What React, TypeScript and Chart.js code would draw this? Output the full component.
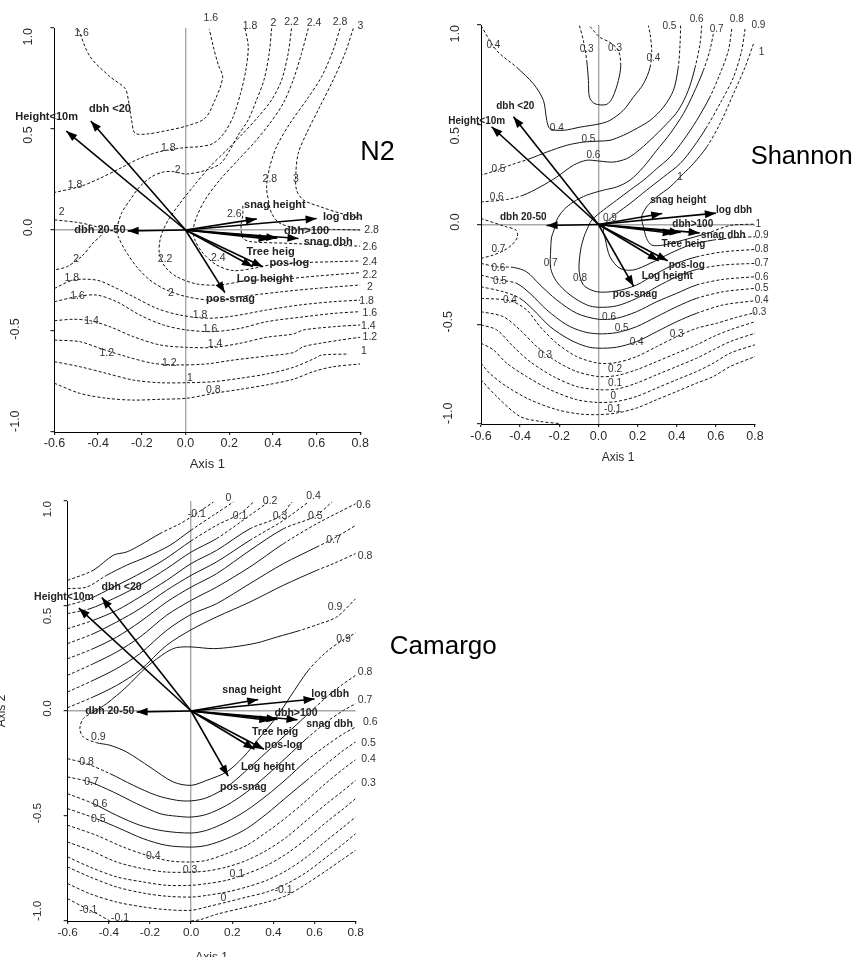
import React, { useEffect, useRef } from 'react';
import { Chart, registerables } from 'chart.js';

Chart.register(...registerables);

const FONT = '"Liberation Sans", Arial, Helvetica, sans-serif';
Chart.defaults.font.family = FONT;

type Pt = [number, number];

// ---------- axes ----------
const xTickValues = [-0.6, -0.4, -0.2, 0, 0.2, 0.4, 0.6, 0.8];
const yTickValues = [1, 0.5, 0, -0.5, -1];

// ---------- biplot vectors (shared by the three panels) ----------
const arrowNames = ['Height<10m', 'dbh <20', 'dbh 20-50', 'snag height', 'log dbh', 'dbh>100', 'snag dbh', 'Tree heig', 'pos-log', 'Log height', 'pos-snag'];
const arrowX = [-0.546, -0.434, -0.265, 0.326, 0.6, 0.42, 0.517, 0.385, 0.354, 0.308, 0.18];
const arrowY = [0.49, 0.54, -0.005, 0.055, 0.057, -0.04, -0.042, -0.045, -0.182, -0.182, -0.31];

// ---------- N2 panel ----------
const n2_16a: Pt[] = [[-0.491,0.993],[-0.437,0.858],[-0.346,0.759],[-0.277,0.701],[-0.262,0.644],[-0.247,0.545],[-0.232,0.48],[-0.178,0.475],[-0.087,0.492],[0.005,0.515],[0.089,0.553],[0.135,0.644],[0.17,0.756],[0.15,0.817],[0.127,0.908],[0.109,0.993]];
const n2_18a: Pt[] = [[0.272,0.998],[0.287,0.908],[0.276,0.792],[0.252,0.677],[0.218,0.561],[0.176,0.479],[0.127,0.429],[0.066,0.413],[-0.003,0.408],[-0.117,0.388],[-0.209,0.355],[-0.3,0.305],[-0.392,0.256],[-0.483,0.215],[-0.6,0.186]];
const n2_20a: Pt[] = [[0.394,0.998],[0.383,0.875],[0.359,0.743],[0.325,0.644],[0.287,0.545],[0.241,0.47],[0.203,0.396],[0.161,0.33],[0.096,0.297],[0.005,0.277],[-0.056,0.289],[-0.102,0.287],[-0.155,0.264],[-0.209,0.215],[-0.254,0.149],[-0.293,0.083],[-0.315,0],[-0.308,-0.033],[-0.277,-0.099],[-0.224,-0.182],[-0.163,-0.248],[-0.087,-0.297],[0.005,-0.33],[0.127,-0.347],[0.31,-0.322],[0.447,-0.305],[0.6,-0.289],[0.8,-0.272]];
const n2_20b: Pt[] = [[-0.6,0.05],[-0.499,0.038],[-0.42,0.02],[-0.38,0.0],[-0.385,-0.025],[-0.42,-0.06],[-0.475,-0.13],[-0.544,-0.182],[-0.6,-0.198]];
const n2_22: Pt[] = [[0.485,0.998],[0.47,0.875],[0.44,0.743],[0.394,0.644],[0.333,0.561],[0.264,0.479],[0.188,0.396],[0.112,0.314],[0.035,0.215],[-0.026,0.132],[-0.079,0.05],[-0.102,0],[-0.117,-0.05],[-0.12,-0.116],[-0.094,-0.182],[-0.041,-0.231],[0.051,-0.267],[0.157,-0.272],[0.279,-0.251],[0.447,-0.243],[0.6,-0.228],[0.8,-0.211]];
const n2_24: Pt[] = [[0.562,0.998],[0.531,0.875],[0.493,0.743],[0.447,0.627],[0.386,0.528],[0.318,0.437],[0.241,0.347],[0.157,0.248],[0.089,0.149],[0.051,0.066],[0.035,0],[0.043,-0.05],[0.081,-0.116],[0.142,-0.173],[0.218,-0.201],[0.31,-0.19],[0.402,-0.17],[0.524,-0.162],[0.676,-0.157],[0.8,-0.153]];
const n2_26: Pt[] = [[0.262,0.12],[0.262,0.074],[0.254,0.02],[0.262,-0.04],[0.3,-0.058],[0.45,-0.065],[0.6,-0.072],[0.8,-0.08]];
const n2_28: Pt[] = [[0.707,0.998],[0.676,0.891],[0.623,0.759],[0.554,0.644],[0.478,0.528],[0.417,0.413],[0.386,0.314],[0.371,0.215],[0.379,0.149],[0.394,0.083],[0.432,0.033],[0.524,0.008],[0.676,0.003],[0.8,0]];
const n2_30: Pt[] = [[0.768,0.998],[0.73,0.875],[0.676,0.743],[0.615,0.611],[0.554,0.479],[0.516,0.38],[0.505,0.281],[0.508,0.198],[0.539,0.149],[0.615,0.116],[0.707,0.083],[0.8,0.058]];
const n2_18b: Pt[] = [[-0.6,-0.289],[-0.514,-0.248],[-0.407,-0.248],[-0.331,-0.281],[-0.239,-0.33],[-0.132,-0.388],[-0.026,-0.421],[0.096,-0.437],[0.218,-0.426],[0.371,-0.396],[0.524,-0.371],[0.676,-0.355],[0.8,-0.347]];
const n2_16b: Pt[] = [[-0.6,-0.355],[-0.499,-0.33],[-0.407,-0.322],[-0.315,-0.355],[-0.209,-0.421],[-0.102,-0.47],[0.005,-0.495],[0.127,-0.503],[0.249,-0.487],[0.371,-0.454],[0.524,-0.432],[0.676,-0.413],[0.8,-0.404]];
const n2_14: Pt[] = [[-0.6,-0.449],[-0.514,-0.442],[-0.437,-0.449],[-0.346,-0.479],[-0.239,-0.528],[-0.117,-0.569],[0.005,-0.581],[0.127,-0.581],[0.249,-0.561],[0.371,-0.531],[0.493,-0.515],[0.539,-0.495],[0.676,-0.479],[0.8,-0.47]];
const n2_12: Pt[] = [[-0.6,-0.545],[-0.483,-0.553],[-0.392,-0.586],[-0.27,-0.627],[-0.148,-0.66],[-0.026,-0.668],[0.096,-0.663],[0.218,-0.644],[0.371,-0.624],[0.493,-0.607],[0.539,-0.578],[0.615,-0.561],[0.707,-0.545],[0.8,-0.531]];
const n2_10: Pt[] = [[-0.6,-0.652],[-0.483,-0.677],[-0.361,-0.71],[-0.239,-0.743],[-0.117,-0.756],[0.005,-0.756],[0.127,-0.751],[0.249,-0.734],[0.371,-0.713],[0.493,-0.68],[0.592,-0.635],[0.623,-0.619],[0.745,-0.614]];
const n2_08: Pt[] = [[-0.6,-0.759],[-0.483,-0.809],[-0.361,-0.833],[-0.239,-0.842],[-0.117,-0.838],[0.005,-0.833],[0.127,-0.809],[0.249,-0.789],[0.371,-0.767],[0.493,-0.739],[0.585,-0.701],[0.676,-0.677],[0.8,-0.663]];
const n2Contours = [n2_16a, n2_18a, n2_20a, n2_20b, n2_22, n2_24, n2_26, n2_28, n2_30, n2_18b, n2_16b, n2_14, n2_12, n2_10, n2_08];
const n2Levels: [string, number, number][] = [['1.6',-0.476,0.974],['1.6',0.116,1.048],['1.8',0.295,1.01],['2',0.402,1.023],['2.2',0.485,1.031],['2.4',0.588,1.026],['2.8',0.707,1.031],['3',0.8,1.01],['1.8',-0.079,0.404],['2',-0.036,0.297],['1.8',-0.506,0.223],['2.8',0.386,0.252],['3',0.505,0.252],['2',-0.567,0.091],['2.6',0.223,0.078],['2.8',0.852,0],['2.6',0.844,-0.083],['2.4',0.844,-0.157],['2.2',0.844,-0.223],['2',0.844,-0.284],['1.8',0.829,-0.35],['1.6',0.844,-0.409],['1.4',0.837,-0.474],['1.2',0.844,-0.531],['1',0.817,-0.602],['2',-0.501,-0.145],['2.2',-0.094,-0.145],['2.4',0.15,-0.14],['2',-0.067,-0.314],['1.8',-0.521,-0.239],['1.6',-0.495,-0.327],['1.4',-0.43,-0.449],['1.2',-0.361,-0.611],['1.8',0.066,-0.421],['1.6',0.112,-0.492],['1.4',0.135,-0.564],['1.2',-0.074,-0.657],['1',0.02,-0.734],['0.8',0.127,-0.795]];
const n2NameX = [-0.636, -0.346, -0.392, 0.409, 0.72, 0.554, 0.653, 0.389, 0.475, 0.363, 0.206];
const n2NameY = [0.561, 0.599, 0.0, 0.124, 0.066, -0.005, -0.058, -0.107, -0.165, -0.244, -0.343];

// ---------- Shannon panel ----------
const sh_04: Pt[] = [[-0.6,0.997],[-0.52,0.872],[-0.418,0.788],[-0.332,0.705],[-0.281,0.622],[-0.264,0.522],[-0.247,0.48],[-0.179,0.472],[-0.094,0.488],[0.008,0.505],[0.059,0.522],[0.127,0.572],[0.178,0.638],[0.23,0.705],[0.264,0.788],[0.272,0.872],[0.264,0.955],[0.255,0.997]];
const sh_03: Pt[] = [[-0.097,0.997],[-0.077,0.922],[-0.06,0.822],[-0.051,0.722],[-0.046,0.638],[-0.017,0.605],[0.042,0.602],[0.073,0.638],[0.102,0.722],[0.114,0.797],[0.102,0.872],[0.059,0.913],[0.008,0.938],[-0.043,0.992]];
const sh_05: Pt[] = [[0.42,0.997],[0.417,0.905],[0.408,0.788],[0.383,0.672],[0.332,0.588],[0.264,0.522],[0.178,0.472],[0.127,0.447],[0.059,0.422],[0.003,0.418],[-0.077,0.413],[-0.162,0.397],[-0.264,0.363],[-0.35,0.33],[-0.452,0.297],[-0.52,0.272],[-0.6,0.247]];
const sh_06: Pt[] = [[0.528,0.997],[0.519,0.905],[0.494,0.788],[0.459,0.672],[0.408,0.572],[0.349,0.505],[0.264,0.422],[0.195,0.363],[0.144,0.33],[0.076,0.313],[0.003,0.318],[-0.06,0.322],[-0.128,0.297],[-0.213,0.238],[-0.298,0.188],[-0.384,0.147],[-0.469,0.125],[-0.6,0.113]];
const sh_07: Pt[] = [[0.587,0.955],[0.569,0.872],[0.536,0.772],[0.485,0.655],[0.434,0.555],[0.366,0.455],[0.298,0.372],[0.23,0.288],[0.161,0.222],[0.093,0.188],[0.025,0.172],[-0.06,0.147],[-0.128,0.113],[-0.179,0.072],[-0.213,0.022],[-0.227,-0.028],[-0.239,-0.062],[-0.244,-0.128],[-0.244,-0.22],[-0.213,-0.287],[-0.145,-0.353],[-0.06,-0.403],[0,-0.415],[0.093,-0.408],[0.195,-0.37],[0.298,-0.312],[0.4,-0.262],[0.502,-0.225],[0.638,-0.203],[0.8,-0.195]];
const sh_08: Pt[] = [[0.681,0.98],[0.664,0.872],[0.621,0.755],[0.569,0.638],[0.502,0.522],[0.434,0.422],[0.366,0.338],[0.298,0.28],[0.23,0.222],[0.161,0.172],[0.093,0.122],[0.025,0.072],[-0.034,0.022],[-0.06,-0.028],[-0.074,-0.062],[-0.091,-0.128],[-0.099,-0.228],[-0.077,-0.303],[-0.009,-0.337],[0.093,-0.333],[0.195,-0.303],[0.298,-0.245],[0.4,-0.195],[0.502,-0.162],[0.638,-0.137],[0.8,-0.125]];
const sh_09: Pt[] = [[0.749,0.98],[0.732,0.872],[0.69,0.738],[0.63,0.622],[0.553,0.488],[0.485,0.388],[0.417,0.305],[0.332,0.238],[0.246,0.172],[0.161,0.105],[0.093,0.055],[0.042,0.013],[0.025,-0.028],[0.034,-0.07],[0.059,-0.162],[0.11,-0.22],[0.178,-0.228],[0.264,-0.195],[0.366,-0.145],[0.468,-0.103],[0.587,-0.078],[0.707,-0.065],[0.8,-0.062]];
const sh_10: Pt[] = [[0.792,0.905],[0.749,0.788],[0.69,0.655],[0.621,0.505],[0.553,0.388],[0.485,0.305],[0.434,0.255],[0.366,0.188],[0.298,0.138],[0.246,0.088],[0.221,0.038],[0.23,-0.012],[0.246,-0.07],[0.272,-0.103],[0.332,-0.103],[0.434,-0.078],[0.553,-0.045],[0.673,-0.005],[0.8,0.002]];
const sh_07b: Pt[] = [[-0.6,0.03],[-0.469,-0.012],[-0.421,-0.028],[-0.414,-0.062],[-0.443,-0.103],[-0.486,-0.132],[-0.537,-0.153],[-0.6,-0.17]];
const sh_u06: Pt[] = [[-0.6,-0.195],[-0.52,-0.212],[-0.435,-0.215],[-0.367,-0.237],[-0.298,-0.303],[-0.213,-0.378],[-0.111,-0.445],[0,-0.475],[0.093,-0.47],[0.195,-0.437],[0.298,-0.387],[0.4,-0.345],[0.502,-0.303],[0.638,-0.275],[0.8,-0.262]];
const sh_u05: Pt[] = [[-0.6,-0.253],[-0.503,-0.278],[-0.418,-0.295],[-0.35,-0.345],[-0.264,-0.428],[-0.162,-0.503],[-0.077,-0.537],[0,-0.548],[0.093,-0.542],[0.195,-0.512],[0.298,-0.462],[0.4,-0.412],[0.502,-0.37],[0.638,-0.337],[0.8,-0.32]];
const sh_u04: Pt[] = [[-0.6,-0.312],[-0.486,-0.337],[-0.401,-0.37],[-0.332,-0.428],[-0.247,-0.512],[-0.145,-0.578],[-0.06,-0.612],[0,-0.62],[0.093,-0.615],[0.195,-0.587],[0.298,-0.537],[0.4,-0.487],[0.502,-0.445],[0.638,-0.403],[0.8,-0.382]];
const sh_u03: Pt[] = [[-0.6,-0.37],[-0.452,-0.382],[-0.367,-0.428],[-0.298,-0.512],[-0.213,-0.595],[-0.111,-0.662],[0,-0.695],[0.093,-0.692],[0.195,-0.662],[0.298,-0.612],[0.4,-0.562],[0.502,-0.52],[0.604,-0.495],[0.707,-0.465],[0.8,-0.442]];
const sh_u02: Pt[] = [[-0.6,-0.437],[-0.486,-0.462],[-0.401,-0.528],[-0.315,-0.612],[-0.213,-0.687],[-0.111,-0.737],[0,-0.762],[0.093,-0.757],[0.195,-0.728],[0.298,-0.687],[0.4,-0.645],[0.502,-0.603],[0.587,-0.562],[0.673,-0.528],[0.8,-0.487]];
const sh_u01: Pt[] = [[-0.6,-0.503],[-0.52,-0.528],[-0.435,-0.612],[-0.35,-0.687],[-0.23,-0.762],[-0.111,-0.812],[0,-0.828],[0.093,-0.825],[0.195,-0.795],[0.298,-0.753],[0.4,-0.712],[0.502,-0.67],[0.587,-0.628],[0.673,-0.587],[0.8,-0.545]];
const sh_u00: Pt[] = [[-0.6,-0.595],[-0.537,-0.628],[-0.469,-0.695],[-0.367,-0.762],[-0.247,-0.828],[-0.111,-0.878],[0,-0.892],[0.093,-0.887],[0.195,-0.862],[0.298,-0.82],[0.4,-0.778],[0.502,-0.737],[0.587,-0.695],[0.673,-0.645],[0.8,-0.603]];
const sh_um01: Pt[] = [[-0.6,-0.695],[-0.557,-0.745],[-0.469,-0.812],[-0.35,-0.878],[-0.213,-0.928],[-0.094,-0.95],[0,-0.953],[0.093,-0.945],[0.195,-0.92],[0.298,-0.878],[0.4,-0.837],[0.502,-0.795],[0.587,-0.762],[0.673,-0.712],[0.8,-0.662]];
const sh_um02: Pt[] = [[-0.6,-0.778],[-0.52,-0.862],[-0.401,-0.962],[-0.298,-0.987],[-0.196,-0.998]];
const shContours = [sh_04, sh_03, sh_05, sh_06, sh_07, sh_08, sh_09, sh_10, sh_07b, sh_u06, sh_u05, sh_u04, sh_u03, sh_u02, sh_u01, sh_u00, sh_um01, sh_um02];
const shLevels: [string, number, number][] = [['0.4',-0.537,0.897],['0.3',-0.06,0.88],['0.3',0.085,0.883],['0.4',0.281,0.835],['0.5',0.363,0.992],['0.6',0.502,1.027],['0.7',0.604,0.98],['0.8',0.707,1.027],['0.9',0.817,0.997],['1',0.834,0.863],['0.4',-0.213,0.48],['0.5',-0.051,0.425],['0.6',-0.026,0.347],['0.5',-0.511,0.275],['0.6',-0.52,0.138],['1',0.417,0.238],['0.9',0.059,0.03],['1',0.817,0.002],['0.9',0.834,-0.053],['0.8',0.834,-0.125],['0.7',0.834,-0.195],['0.6',0.834,-0.262],['0.5',0.834,-0.32],['0.4',0.834,-0.382],['0.3',0.822,-0.442],['0.7',-0.511,-0.125],['0.6',-0.511,-0.217],['0.5',-0.503,-0.282],['0.4',-0.452,-0.382],['0.7',-0.244,-0.195],['0.8',-0.094,-0.267],['0.6',0.054,-0.465],['0.5',0.119,-0.52],['0.4',0.195,-0.592],['0.3',0.4,-0.55],['0.3',-0.273,-0.653],['0.2',0.085,-0.728],['0.1',0.085,-0.795],['0',0.076,-0.862],['-0.1',0.073,-0.925]];
const shNameX = [-0.622, -0.425, -0.384, 0.408, 0.693, 0.482, 0.638, 0.434, 0.451, 0.352, 0.187];
const shNameY = [0.518, 0.592, 0.038, 0.122, 0.072, 0.0, -0.054, -0.099, -0.204, -0.257, -0.35];

// ---------- Camargo panel ----------
const cm_um01: Pt[] = [[-0.6,0.622],[-0.476,0.67],[-0.378,0.742],[-0.314,0.757],[-0.249,0.789],[-0.151,0.845],[-0.054,0.892],[0,0.924],[0.108,0.995]];
const cm_u00: Pt[] = [[-0.6,0.583],[-0.508,0.59],[-0.411,0.646],[-0.314,0.694],[-0.216,0.734],[-0.103,0.789],[0,0.861],[0.108,0.932],[0.205,0.995]];
const cm_u01: Pt[] = [[-0.6,0.503],[-0.492,0.535],[-0.378,0.59],[-0.265,0.646],[-0.135,0.718],[0,0.81],[0.124,0.884],[0.238,0.94],[0.303,0.995]];
const cm_u02: Pt[] = [[-0.6,0.464],[-0.492,0.487],[-0.378,0.535],[-0.249,0.599],[-0.119,0.678],[0,0.757],[0.124,0.821],[0.286,0.932],[0.376,0.995]];
const cm_u03: Pt[] = [[-0.6,0.392],[-0.476,0.432],[-0.362,0.479],[-0.249,0.543],[-0.119,0.622],[0,0.702],[0.124,0.765],[0.286,0.868],[0.432,0.927],[0.489,0.995]];
const cm_u04: Pt[] = [[-0.6,0.321],[-0.476,0.368],[-0.362,0.424],[-0.249,0.487],[-0.119,0.575],[0,0.646],[0.124,0.71],[0.286,0.813],[0.449,0.908],[0.57,0.995]];
const cm_u05: Pt[] = [[-0.6,0.249],[-0.476,0.297],[-0.362,0.352],[-0.249,0.424],[-0.119,0.519],[0,0.59],[0.124,0.654],[0.286,0.765],[0.449,0.868],[0.603,0.927],[0.684,0.995]];
const cm_u06: Pt[] = [[-0.6,0.17],[-0.476,0.225],[-0.362,0.281],[-0.249,0.352],[-0.119,0.456],[0,0.527],[0.124,0.59],[0.286,0.686],[0.449,0.797],[0.611,0.892],[0.8,0.987]];
const cm_u07: Pt[] = [[-0.6,0.091],[-0.476,0.146],[-0.362,0.202],[-0.249,0.273],[-0.119,0.384],[0,0.46],[0.124,0.511],[0.286,0.607],[0.449,0.702],[0.611,0.781],[0.692,0.821],[0.8,0.884]];
const cm_u08: Pt[] = [[-0.6,0.016],[-0.476,0.067],[-0.362,0.122],[-0.249,0.194],[-0.119,0.313],[0,0.387],[0.124,0.448],[0.286,0.519],[0.449,0.599],[0.611,0.67],[0.692,0.702],[0.8,0.75]];
const cm_09: Pt[] = [[0.8,0.535],[0.708,0.448],[0.627,0.416],[0.53,0.384],[0.416,0.352],[0.319,0.324],[0.205,0.305],[0.108,0.297],[0,0.305],[-0.07,0.302],[-0.119,0.281],[-0.216,0.21],[-0.314,0.115],[-0.411,0.035],[-0.476,-0.005],[-0.524,-0.036],[-0.541,-0.084],[-0.524,-0.124],[-0.46,-0.151],[-0.395,-0.163],[-0.314,-0.195],[-0.2,-0.267],[-0.087,-0.338],[0,-0.354],[0.076,-0.33],[0.173,-0.29],[0.254,-0.219],[0.335,-0.124],[0.416,-0.028],[0.481,0.067],[0.57,0.194],[0.651,0.276],[0.724,0.329],[0.8,0.372]];
const cm_l08: Pt[] = [[-0.6,-0.227],[-0.508,-0.251],[-0.395,-0.298],[-0.281,-0.354],[-0.168,-0.402],[-0.07,-0.425],[0,-0.428],[0.076,-0.413],[0.173,-0.362],[0.27,-0.282],[0.368,-0.195],[0.465,-0.108],[0.562,-0.02],[0.659,0.067],[0.741,0.13],[0.8,0.17]];
const cm_l07: Pt[] = [[-0.6,-0.314],[-0.492,-0.338],[-0.378,-0.386],[-0.265,-0.441],[-0.151,-0.489],[-0.07,-0.501],[0,-0.505],[0.076,-0.492],[0.173,-0.449],[0.27,-0.386],[0.368,-0.306],[0.465,-0.219],[0.562,-0.131],[0.659,-0.052],[0.741,0.003],[0.8,0.035]];
const cm_l06: Pt[] = [[-0.6,-0.394],[-0.476,-0.441],[-0.362,-0.497],[-0.249,-0.544],[-0.135,-0.571],[0,-0.581],[0.076,-0.568],[0.173,-0.528],[0.27,-0.473],[0.368,-0.402],[0.465,-0.322],[0.562,-0.235],[0.659,-0.163],[0.741,-0.108],[0.8,-0.076]];
const cm_l05: Pt[] = [[-0.6,-0.465],[-0.46,-0.513],[-0.346,-0.56],[-0.233,-0.608],[-0.119,-0.64],[0,-0.648],[0.076,-0.64],[0.173,-0.608],[0.27,-0.56],[0.368,-0.489],[0.465,-0.409],[0.562,-0.33],[0.659,-0.251],[0.741,-0.187],[0.8,-0.147]];
const cm_l04: Pt[] = [[-0.6,-0.544],[-0.46,-0.592],[-0.33,-0.648],[-0.216,-0.687],[-0.103,-0.714],[0,-0.719],[0.076,-0.711],[0.173,-0.679],[0.27,-0.64],[0.368,-0.576],[0.465,-0.505],[0.562,-0.425],[0.643,-0.354],[0.741,-0.275],[0.8,-0.232]];
const cm_l03: Pt[] = [[-0.6,-0.624],[-0.492,-0.663],[-0.362,-0.719],[-0.233,-0.751],[-0.119,-0.767],[0,-0.767],[0.076,-0.762],[0.173,-0.743],[0.27,-0.711],[0.368,-0.663],[0.465,-0.6],[0.562,-0.52],[0.659,-0.441],[0.741,-0.378],[0.8,-0.33]];
const cm_l02: Pt[] = [[-0.6,-0.695],[-0.492,-0.743],[-0.362,-0.79],[-0.233,-0.814],[-0.119,-0.83],[0,-0.83],[0.076,-0.822],[0.173,-0.806],[0.27,-0.775],[0.368,-0.735],[0.465,-0.679],[0.562,-0.608],[0.659,-0.528],[0.741,-0.465],[0.8,-0.417]];
const cm_l01: Pt[] = [[-0.6,-0.743],[-0.492,-0.79],[-0.362,-0.838],[-0.233,-0.867],[-0.119,-0.882],[0,-0.886],[0.076,-0.878],[0.173,-0.862],[0.27,-0.838],[0.368,-0.806],[0.465,-0.759],[0.562,-0.695],[0.659,-0.616],[0.741,-0.552],[0.8,-0.505]];
const cm_l00: Pt[] = [[-0.6,-0.822],[-0.492,-0.87],[-0.362,-0.91],[-0.233,-0.933],[-0.119,-0.946],[0,-0.949],[0.076,-0.933],[0.173,-0.91],[0.27,-0.886],[0.368,-0.862],[0.465,-0.822],[0.562,-0.767],[0.659,-0.695],[0.741,-0.632],[0.8,-0.584]];
const cm_lm01a: Pt[] = [[-0.6,-0.894],[-0.524,-0.933],[-0.443,-0.973],[-0.395,-1.0]];
const cm_lm01b: Pt[] = [[0,-1.0],[0.043,-0.994],[0.124,-0.968],[0.238,-0.941],[0.368,-0.91],[0.465,-0.878],[0.562,-0.822],[0.659,-0.759],[0.741,-0.703],[0.8,-0.663]];
const cmContours = [cm_um01, cm_u00, cm_u01, cm_u02, cm_u03, cm_u04, cm_u05, cm_u06, cm_u07, cm_u08, cm_09, cm_l08, cm_l07, cm_l06, cm_l05, cm_l04, cm_l03, cm_l02, cm_l01, cm_l00, cm_lm01a, cm_lm01b];
const cmLevels: [string, number, number][] = [['-0.1',0.027,0.936],['0',0.181,1.016],['0.1',0.238,0.927],['0.2',0.384,1.0],['0.3',0.432,0.927],['0.4',0.595,1.022],['0.5',0.603,0.927],['0.6',0.838,0.98],['0.7',0.692,0.816],['0.8',0.846,0.737],['0.9',0.7,0.495],['0.9',0.741,0.344],['0.8',0.846,0.186],['0.7',0.846,0.054],['0.6',0.871,-0.055],['0.5',0.862,-0.151],['0.4',0.862,-0.23],['0.3',0.862,-0.343],['0.9',-0.451,-0.124],['0.8',-0.508,-0.243],['0.7',-0.484,-0.338],['0.6',-0.443,-0.444],['0.5',-0.451,-0.517],['0.4',-0.184,-0.69],['0.3',-0.005,-0.759],['0.1',0.222,-0.775],['0',0.157,-0.889],['-0.1',0.449,-0.851],['-0.1',-0.5,-0.949],['-0.1',-0.346,-0.984]];
const cmNameX = [-0.618, -0.338, -0.395, 0.295, 0.676, 0.51, 0.673, 0.408, 0.449, 0.373, 0.254];
const cmNameY = [0.543, 0.59, 0.0, 0.099, 0.08, -0.01, -0.063, -0.1, -0.163, -0.267, -0.362];

// ---------- styles / layout (kept apart from the data) ----------
// line mode: 0 = dashed, 1 = solid in the core of the plot, dashed near the edges
const n2Modes = n2Contours.map(() => 0);
const shModes = [1, 1, 1, 1, 1, 1, 1, 1, 0, 1, 1, 1, 0, 0, 0, 0, 0, 0];
const cmModes = [1, 1, 1, 1, 1, 1, 1, 1, 1, 1, 1, 1, 1, 1, 1, 0, 0, 0, 0, 0, 0, 0];

type PanelCfg = {
  key: string;
  contours: Pt[][];
  modes: number[];
  core: [number, number, number, number];
  levels: [string, number, number][];
  nameX: number[];
  nameY: number[];
  left: number; top: number; width: number; height: number;
  padTop: number; padRight: number; yAxisW: number; xAxisH: number;
  tickPad: number; titlePad: number; tickFont: number; titleFont: number;
  nameFont: number; levelFont: number;
  yLabPos: number; yLabNeg: number; yLabShift: number[];
  yTitle: boolean; yTitlePad: number;
};

const panels: PanelCfg[] = [
  {
    key: 'n2', contours: n2Contours, modes: n2Modes, core: [-0.45, 0.6, -0.8, 0.85],
    levels: n2Levels, nameX: n2NameX, nameY: n2NameY,
    left: 0, top: 0, width: 430, height: 475,
    padTop: 28, padRight: 69.7, yAxisW: 54.5, xAxisH: 43,
    tickPad: 1, titlePad: 2.8, tickFont: 12.5, titleFont: 13, nameFont: 11, levelFont: 10.5,
    yLabPos: 26.2, yLabNeg: 38.5, yLabShift: [0, 6, -2.5, -2, 0], yTitle: false, yTitlePad: 0,
  },
  {
    key: 'sh', contours: shContours, modes: shModes, core: [-0.44, 0.6, -0.75, 0.84],
    levels: shLevels, nameX: shNameX, nameY: shNameY,
    left: 430, top: 0, width: 423, height: 470,
    padTop: 25, padRight: 98, yAxisW: 51, xAxisH: 46,
    tickPad: 2.5, titlePad: 4.8, tickFont: 12.5, titleFont: 12, nameFont: 10, levelFont: 10,
    yLabPos: 25.7, yLabNeg: 32.7, yLabShift: [0, 11, -2.5, -2.5, 0], yTitle: false, yTitlePad: 0,
  },
  {
    key: 'cm', contours: cmContours, modes: cmModes, core: [-0.5, 0.62, -0.8, 0.88],
    levels: cmLevels, nameX: cmNameX, nameY: cmNameY,
    left: -12, top: 475, width: 442, height: 495,
    padTop: 26, padRight: 74.3, yAxisW: 79.7, xAxisH: 49,
    tickPad: 1.5, titlePad: 4.8, tickFont: 11.8, titleFont: 12, nameFont: 10.5, levelFont: 10.5,
    yLabPos: 20.4, yLabNeg: 30, yLabShift: [0, 10, -2.5, -3, 0], yTitle: true, yTitlePad: 6.8,
  },
];

const titles = [
  { text: 'N2', x: 377.5, y: 151, size: 27 },
  { text: 'Shannon', x: 801.7, y: 156, size: 25.5 },
  { text: 'Camargo', x: 443.3, y: 644.5, size: 26 },
];

const isZero = (v: number) => Math.abs(v) < 1e-9;

function BiplotPanel({ cfg }: { cfg: PanelCfg }) {
  const ref = useRef<HTMLCanvasElement | null>(null);

  useEffect(() => {
    const canvas = ref.current;
    if (!canvas) return;
    const [cx0, cx1, cy0, cy1] = cfg.core;
    const inCore = (p: any) => p.x >= cx0 && p.x <= cx1 && p.y >= cy0 && p.y <= cy1;

    const arrowSets = arrowX.map((ax, i) => ({
      type: 'line',
      data: [{ x: 0, y: 0 }, { x: ax, y: arrowY[i] }],
      borderColor: '#000',
      borderWidth: 1.6,
      pointRadius: 0,
      tension: 0,
      fill: false,
      order: 0,
    }));

    const contourSets = cfg.contours.map((pts, i) => {
      const mixed = cfg.modes[i] === 1;
      const ds: any = {
        type: 'line',
        data: pts.map(([x, y]) => ({ x, y })),
        borderColor: '#151515',
        borderWidth: 1,
        borderDash: mixed ? [] : [3, 2],
        pointRadius: 0,
        fill: false,
        tension: 0.3,
        order: 1,
      };
      if (mixed) {
        ds.segment = {
          borderDash: (c: any) => (inCore(c.p0.parsed) && inCore(c.p1.parsed) ? [] : [3, 2]),
        };
      }
      return ds;
    });

    const overlay = {
      id: 'biplotOverlay' + cfg.key,
      afterDatasetsDraw(chart: any) {
        const { ctx, chartArea } = chart;
        const xs = chart.scales.x;
        const ys = chart.scales.y;
        ctx.save();
        // arrow heads
        const ox = xs.getPixelForValue(0);
        const oy = ys.getPixelForValue(0);
        ctx.fillStyle = '#000';
        for (let i = 0; i < arrowX.length; i++) {
          const tx = xs.getPixelForValue(arrowX[i]);
          const ty = ys.getPixelForValue(arrowY[i]);
          const a = Math.atan2(ty - oy, tx - ox);
          const L = 11;
          const W = 4;
          const bx = tx - L * Math.cos(a);
          const by = ty - L * Math.sin(a);
          ctx.beginPath();
          ctx.moveTo(tx, ty);
          ctx.lineTo(bx - W * Math.sin(a), by + W * Math.cos(a));
          ctx.lineTo(bx + W * Math.sin(a), by - W * Math.cos(a));
          ctx.closePath();
          ctx.fill();
        }
        ctx.textAlign = 'center';
        ctx.textBaseline = 'middle';
        // contour level labels
        ctx.font = `${cfg.levelFont}px ${FONT}`;
        ctx.fillStyle = '#333';
        for (const [t, lx, ly] of cfg.levels) {
          ctx.fillText(t, xs.getPixelForValue(lx), ys.getPixelForValue(ly));
        }
        // vector names
        ctx.font = `bold ${cfg.nameFont}px ${FONT}`;
        ctx.fillStyle = '#222';
        for (let i = 0; i < arrowNames.length; i++) {
          ctx.fillText(arrowNames[i], xs.getPixelForValue(cfg.nameX[i]), ys.getPixelForValue(cfg.nameY[i]));
        }
        // rotated y tick labels
        ctx.font = `${cfg.tickFont}px ${FONT}`;
        ctx.fillStyle = '#2a2a2a';
        yTickValues.forEach((v, k) => {
          const text = v.toFixed(1);
          const w = ctx.measureText(text).width;
          let cy = ys.getPixelForValue(v) + (cfg.yLabShift[k] || 0);
          cy = Math.max(chartArea.top + w / 2, Math.min(chartArea.bottom - w / 2, cy));
          const cx = chartArea.left - (v < 0 ? cfg.yLabNeg : cfg.yLabPos);
          ctx.save();
          ctx.translate(cx, cy);
          ctx.rotate(-Math.PI / 2);
          ctx.fillText(text, 0, 0);
          ctx.restore();
        });
        ctx.restore();
      },
    };

    const gridColor = (c: any) => (c.tick && isZero(c.tick.value) ? '#a8a8a8' : 'rgba(0,0,0,0)');

    const chart = new Chart(canvas, {
      type: 'line',
      data: { datasets: [...arrowSets, ...contourSets] as any },
      options: {
        animation: false,
        responsive: false,
        maintainAspectRatio: false,
        events: [],
        layout: { padding: { left: 0, top: cfg.padTop, right: cfg.padRight, bottom: 0 } },
        plugins: { legend: { display: false }, tooltip: { enabled: false } },
        scales: {
          x: {
            type: 'linear',
            min: -0.6,
            max: 0.8,
            afterBuildTicks: (s: any) => { s.ticks = xTickValues.map((v) => ({ value: v })); },
            afterFit: (s: any) => { s.height = cfg.xAxisH; },
            grid: { color: gridColor, lineWidth: 1.4, tickColor: '#000', tickWidth: 1, tickLength: 3, drawTicks: true },
            border: { display: true, color: '#000', width: 1 },
            ticks: {
              color: '#2a2a2a',
              font: { size: cfg.tickFont },
              padding: cfg.tickPad,
              autoSkip: false,
              maxRotation: 0,
              minRotation: 0,
              callback: (v: any) => Number(v).toFixed(1),
            },
            title: { display: true, text: 'Axis 1', color: '#2a2a2a', font: { size: cfg.titleFont }, padding: { top: 0, bottom: cfg.titlePad } },
          },
          y: {
            type: 'linear',
            min: -1,
            max: 1,
            afterBuildTicks: (s: any) => { s.ticks = yTickValues.map((v) => ({ value: v })); },
            afterFit: (s: any) => { s.width = cfg.yAxisW; },
            grid: { color: gridColor, lineWidth: 1.4, tickColor: '#000', tickWidth: 1, tickLength: 4, drawTicks: true },
            border: { display: true, color: '#000', width: 1 },
            ticks: { display: false },
            title: { display: cfg.yTitle, text: 'Axis 2', color: '#2a2a2a', font: { size: 12 }, padding: { top: cfg.yTitlePad, bottom: 0 } },
          },
        },
      } as any,
      plugins: [overlay],
    });
    return () => chart.destroy();
  }, [cfg]);

  return (
    <canvas
      ref={ref}
      width={cfg.width}
      height={cfg.height}
      style={{ position: 'absolute', left: cfg.left, top: cfg.top, width: cfg.width, height: cfg.height }}
    />
  );
}

export default function App() {
  return (
    <div style={{ position: 'absolute', left: 0, top: 0, width: 853, height: 957, overflow: 'hidden', background: '#fff' }}>
      {panels.map((p) => (
        <BiplotPanel key={p.key} cfg={p} />
      ))}
      {titles.map((t) => (
        <div
          key={t.text}
          style={{
            position: 'absolute',
            left: t.x,
            top: t.y,
            transform: 'translate(-50%, -50%)',
            fontFamily: FONT,
            fontSize: t.size,
            lineHeight: 1,
            color: '#000',
            whiteSpace: 'nowrap',
          }}
        >
          {t.text}
        </div>
      ))}
    </div>
  );
}
